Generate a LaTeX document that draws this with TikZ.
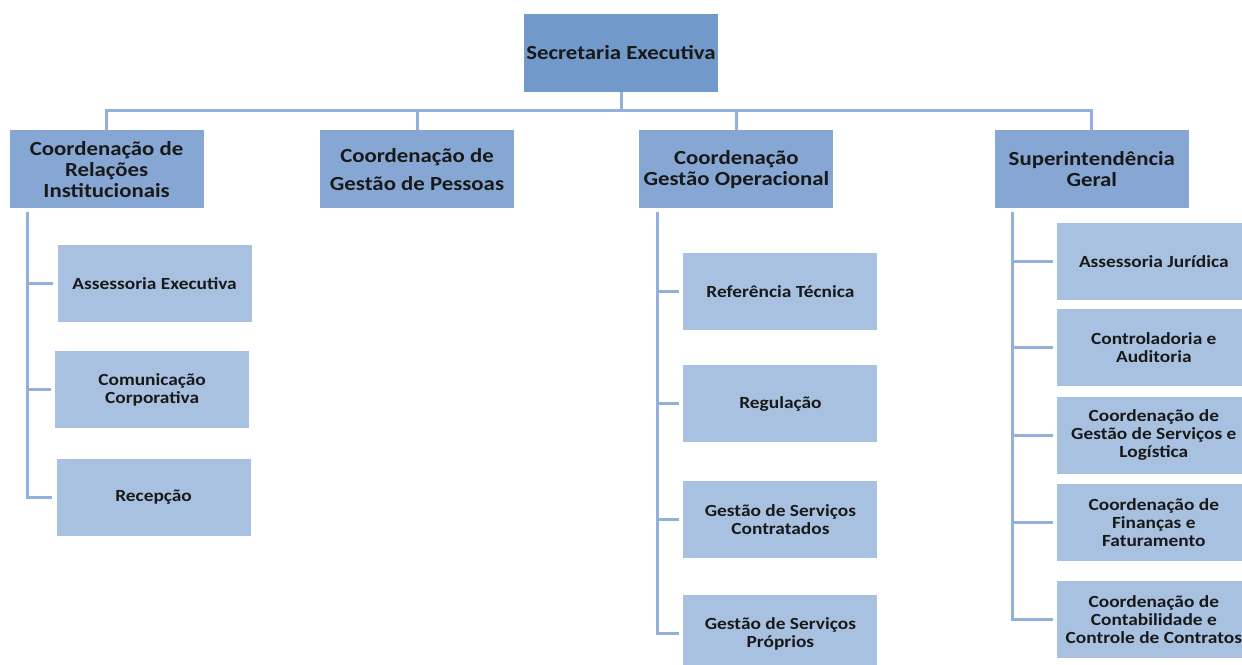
\documentclass[tikz,border=0pt]{standalone}
\usepackage{fontspec}
\setmainfont{Carlito}[FakeStretch=1.14]
\usepackage{tikz}
\usetikzlibrary{positioning}
\definecolor{mtop}{RGB}{113,153,201}
\definecolor{mmid}{RGB}{134,167,211}
\definecolor{mlow}{RGB}{168,193,224}
\definecolor{mline}{RGB}{146,176,218}
\definecolor{mtext}{RGB}{25,25,25}

\begin{document}
\begin{tikzpicture}[box/.style={inner sep=2pt, align=center, text=mtext},
    chief/.style={box, fill=mtop, minimum width=193pt, minimum height=78pt, font=\fontsize{20}{21}\selectfont\bfseries},
    dept/.style={box, fill=mmid, minimum width=194pt, minimum height=78pt, font=\fontsize{20}{21}\selectfont\bfseries},
    team/.style={box, fill=mlow, minimum width=194pt, minimum height=77pt, font=\fontsize{17}{18}\selectfont\bfseries},
    link/.style={mline, line width=3pt},
    branch/.style={link, shorten <=3pt, shorten >=4pt},
]
    \useasboundingbox (0,0) rectangle (1242pt,-664pt);
    \clip (0,0) rectangle (1242pt,-664pt);

    \node[chief] (sec) at (621pt,-53pt) {Secretaria Executiva};

    \node[dept, below=38pt of sec, xshift=-204pt] (cgp) {Coordenação de\\[7pt]Gestão de Pessoas};
    \node[dept, left=116pt of cgp] (cri) {Coordenação de\\Relações\\Institucionais};
    \node[dept, right=125pt of cgp] (cgo) {Coordenação\\Gestão Operacional};
    \node[dept, right=161pt of cgo] (sg) {Superintendência\\Geral};

    \node[team, below=36pt of cri, xshift=48pt] (ae) {Assessoria Executiva};
    \node[team, below=29pt of ae, xshift=-2.5pt] (cc) {Comunicação\\Corporativa};
    \node[team, below=30pt of cc, xshift=1.5pt] (rec) {Recepção};

    \node[team, below=44pt of cgo, xshift=44pt] (rt) {Referência Técnica};
    \node[team, below=35pt of rt] (reg) {Regulação};
    \node[team, below=38pt of reg] (gsc) {Gestão de Serviços\\Contratados};
    \node[team, below=37pt of gsc] (gsp) {Gestão de Serviços\\Próprios};

    \node[team, below=14pt of sg, xshift=62pt] (aj) {Assessoria Jurídica};
    \node[team, below=9pt of aj] (cad) {Controladoria e\\Auditoria};
    \node[team, below=10pt of cad] (cgsl) {Coordenação de\\Gestão de Serviços e\\Logística};
    \node[team, below=10pt of cgsl] (cff) {Coordenação de\\Finanças e\\Faturamento};
    \node[team, below=20pt of cff] (ccc) {Coordenação de\\Contabilidade e\\Controle de Contratos};

    \draw[link] (sec.south) -- ++(0,-18pt) -| (cri.north);
    \draw[link] (sec.south) -- ++(0,-18pt) -| (cgp.north);
    \draw[link] (sec.south) -- ++(0,-18pt) -| (cgo.north);
    \draw[link] (sec.south) -- ++(0,-18pt) -| (sg.north);

    \draw[branch] ([xshift=18pt]cri.south west) |- (ae.west);
    \draw[branch] ([xshift=18pt]cri.south west) |- (cc.west);
    \draw[branch] ([xshift=18pt]cri.south west) |- (rec.west);

    \draw[branch] ([xshift=18pt]cgo.south west) |- (rt.west);
    \draw[branch] ([xshift=18pt]cgo.south west) |- (reg.west);
    \draw[branch] ([xshift=18pt]cgo.south west) |- (gsc.west);
    \draw[branch] ([xshift=18pt]cgo.south west) |- (gsp.west);

    \draw[branch] ([xshift=18pt]sg.south west) |- (aj.west);
    \draw[branch] ([xshift=18pt]sg.south west) |- (cad.west);
    \draw[branch] ([xshift=18pt]sg.south west) |- (cgsl.west);
    \draw[branch] ([xshift=18pt]sg.south west) |- (cff.west);
    \draw[branch] ([xshift=18pt]sg.south west) |- (ccc.west);

\end{tikzpicture}
\end{document}
